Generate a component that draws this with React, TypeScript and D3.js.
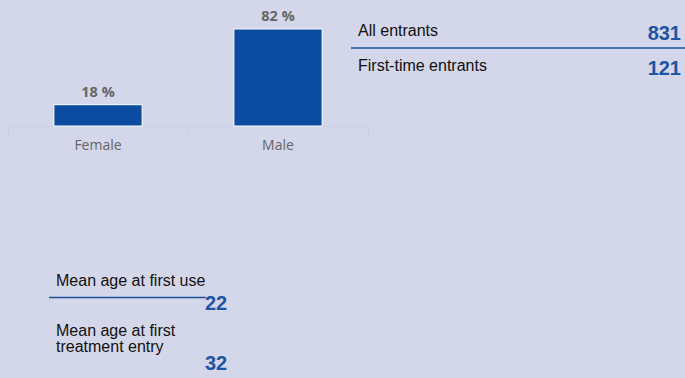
import React from "react";
import * as d3 from "d3";

const categories = ["Female", "Male"];
const shares = [18, 82];
const entrantLabels = ["All entrants", "First-time entrants"];
const entrantValues = [831, 121];
const ageLabels = [["Mean age at first use"], ["Mean age at first", "treatment entry"]];
const ageValues = [22, 32];

const W = 685;
const H = 378;
const BG = "#d4d6ea";
const BLUE = "#0c4ca0";
const NUM = "#1d54a3";

export default function App() {
  const x = d3.scaleBand<string>().domain(categories).range([8, 368]).paddingInner(0.51).paddingOuter(0.255);
  const y = d3.scaleLinear().domain([0, 100]).range([126, 7.7]);
  const tickXs = d3.range(categories.length + 1).map((i) => 8 + i * x.step() * 1.0);
  const sans = "'Liberation Sans', Arial, Helvetica, sans-serif";
  const hc = "'Open Sans', 'DejaVu Sans', sans-serif";
  return (
    <svg width={W} height={H} style={{ position: "absolute", left: 0, top: 0 }}>
      <rect x={0} y={0} width={W} height={H} fill={BG} />
      <line x1={8} x2={368} y1={126.5} y2={126.5} stroke="#c6d2e8" strokeWidth={1} />
      {[8, 188, 368].map((t, i) => (
        <line key={i} x1={t + 0.5} x2={t + 0.5} y1={126} y2={137} stroke="#c6d2e8" strokeWidth={1} />
      ))}
      {categories.map((c, i) => (
        <g key={c}>
          <rect
            x={x(c)!}
            y={y(shares[i])}
            width={x.bandwidth()}
            height={y(0) - y(shares[i])}
            fill={BLUE}
            stroke="#ffffff"
            strokeWidth={1}
          />
          <text
            x={x(c)! + x.bandwidth() / 2}
            y={y(shares[i]) - 8}
            textAnchor="middle"
            fontFamily={hc}
            fontSize={14.5}
            fontWeight="bold"
            fill="#666666"
          >
            {shares[i]} %
          </text>
          <text
            x={x(c)! + x.bandwidth() / 2}
            y={150}
            textAnchor="middle"
            fontFamily={hc}
            fontSize={14}
            fill="#666666"
          >
            {c}
          </text>
        </g>
      ))}
      {entrantLabels.map((l, i) => (
        <g key={l}>
          <text x={358} y={36 + i * 35} fontFamily={sans} fontSize={16} fill="#111">
            {l}
          </text>
          <text x={681} y={40 + i * 35} textAnchor="end" fontFamily={sans} fontSize={20} fontWeight="bold" fill={NUM}>
            {entrantValues[i]}
          </text>
        </g>
      ))}
      <line x1={351} x2={685} y1={48} y2={48} stroke="#1c4f96" strokeWidth={1.5} />
      {ageLabels.map((lines, i) => (
        <g key={i}>
          {lines.map((ln, j) => (
            <text key={j} x={56} y={(i === 0 ? 285.5 : 335.5) + j * 16.7} fontFamily={sans} fontSize={16} fill="#111">
              {ln}
            </text>
          ))}
          <text x={205} y={i === 0 ? 309.5 : 369.5} fontFamily={sans} fontSize={20} fontWeight="bold" fill={NUM}>
            {ageValues[i]}
          </text>
        </g>
      ))}
      <line x1={49} x2={206} y1={297.5} y2={297.5} stroke="#1c4f96" strokeWidth={1.5} />
    </svg>
  );
}
